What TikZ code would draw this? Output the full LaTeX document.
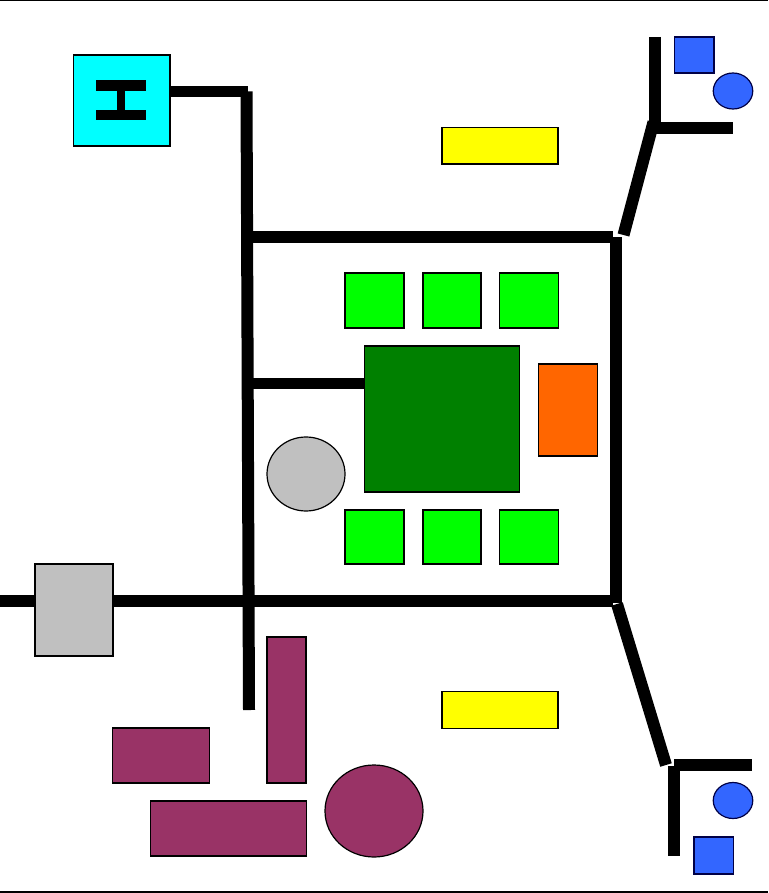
\documentclass[tikz,border=0pt]{standalone}
\usetikzlibrary{shapes.geometric}
\definecolor{lime}{RGB}{0,255,0}
\definecolor{dgreen}{RGB}{0,128,0}
\definecolor{orng}{RGB}{255,102,0}
\definecolor{gry}{RGB}{192,192,192}
\definecolor{plum}{RGB}{153,51,102}
\definecolor{blu}{RGB}{51,102,255}
\definecolor{navy}{RGB}{0,0,70}
\definecolor{cyn}{RGB}{0,255,255}
\definecolor{ylw}{RGB}{255,255,0}
\tikzset{
  wall/.style={line width=12pt,line cap=butt,black},
  thin wall/.style={line width=11pt,line cap=butt,black},
  box/.style n args={3}{draw=black,line width=1.2pt,fill=#1,rectangle,inner sep=0pt,minimum width=#2,minimum height=#3,anchor=center},
  oval/.style n args={3}{draw=black,line width=1.2pt,fill=#1,ellipse,inner sep=0pt,minimum width=#2,minimum height=#3,anchor=center},
  frameline/.style={line width=1.6pt,black}
}
\begin{document}
\begin{tikzpicture}[x=1pt,y=-1pt]
\useasboundingbox (0,0) rectangle (768,893);
\fill[white] (0,0) rectangle (768,893);
% frame lines
\coordinate (tl) at (0,0.6); \coordinate (tr) at (768,0.6);
\coordinate (bl) at (0,891.8); \coordinate (br) at (768,891.8);
\draw[frameline] (tl) -- (tr);
\draw[frameline] (bl) -- (br);
% coordinates
\coordinate (hEnd) at (247.5,92);
\coordinate (mainTop) at (246.5,91.5);
\coordinate (mainBot) at (249,710);
\coordinate (topL) at (247,237);
\coordinate (topR) at (613,237);
\coordinate (rightT) at (616,237);
\coordinate (rightB) at (616,603);
\coordinate (botL) at (0,601);
\coordinate (botR) at (613,601);
\coordinate (innerL) at (249,383);
\coordinate (neV1) at (655,37);
\coordinate (neV2) at (655,122);
\coordinate (neH1) at (652,128);
\coordinate (neH2) at (733,128);
\coordinate (neD1) at (623.5,235);
\coordinate (neD2) at (653.5,122);
\coordinate (seD1) at (617,604);
\coordinate (seD2) at (666,765);
\coordinate (seH1) at (674,765);
\coordinate (seH2) at (752,765);
\coordinate (seV1) at (674,766);
\coordinate (seV2) at (674,856);
% walls
\draw[wall] (mainTop) -- (mainBot);
\draw[thin wall] (topL) -- (topR);
\draw[wall] (rightT) -- (rightB);
\draw[wall] (botL) -- (botR);
\draw[wall] (neV1) -- (neV2);
\draw[wall] (neH1) -- (neH2);
\draw[wall] (neD1) -- (neD2);
\draw[wall] (seD1) -- (seD2);
\draw[wall] (seH1) -- (seH2);
\draw[wall] (seV1) -- (seV2);
% cyan box with beam
\node[box={cyn}{96.5pt}{91pt}] (heli) at (121.75,100.5) {};
\draw[thin wall] (heli.east) ++(0,-8.5) -- (hEnd);
\coordinate (barA1) at (96,85.7); \coordinate (barA2) at (146,85.7);
\coordinate (barB1) at (96,115.2); \coordinate (barB2) at (146,115.2);
\coordinate (stemA) at (121,88); \coordinate (stemB) at (121,113);
\draw[line width=10.5pt,black] (barA1) -- (barA2);
\draw[line width=10.5pt,black] (barB1) -- (barB2);
\draw[line width=8pt,black] (stemA) -- (stemB);
% centre
\node[box={dgreen}{155pt}{146pt}] (core) at (442,419) {};
\draw[thin wall] (innerL) -- (core.west |- innerL);
\node[box={lime}{59pt}{55pt}] (g1) at (374.5,300.5) {};
\node[box={lime}{58pt}{55pt}] (g2) at (452,300.5) {};
\node[box={lime}{58.5pt}{55pt}] (g3) at (529,300.5) {};
\node[box={lime}{59pt}{54pt}] (g4) at (374.5,537) {};
\node[box={lime}{58pt}{54pt}] (g5) at (452,537) {};
\node[box={lime}{58.5pt}{54pt}] (g6) at (529,537) {};
\node[box={orng}{59pt}{92pt}] (or) at (568,410) {};
\node[oval={gry}{78pt}{74pt}] (gc) at (306,474) {};
\node[box={gry}{78pt}{92pt}] (gr) at (74,610) {};
% yellow
\node[box={ylw}{116pt}{36.5pt}] (y1) at (500,145.75) {};
\node[box={ylw}{116pt}{36.5pt}] (y2) at (500,710) {};
% purple
\node[box={plum}{39pt}{146pt}] (p1) at (286.5,710) {};
\node[box={plum}{97pt}{55pt}] (p2) at (161,755.5) {};
\node[box={plum}{156pt}{55pt}] (p3) at (228.5,828.5) {};
\node[oval={plum}{98pt}{92pt}] (p4) at (374,811) {};
% blue
\node[box={blu}{39.5pt}{36pt},draw=navy] (b1) at (694.25,55) {};
\node[oval={blu}{39.5pt}{36pt},draw=navy] (b2) at (733,91) {};
\node[oval={blu}{39.5pt}{36pt},draw=navy] (b3) at (733,800.5) {};
\node[box={blu}{39.5pt}{37pt},draw=navy] (b4) at (713.75,855.5) {};
\end{tikzpicture}
\end{document}
